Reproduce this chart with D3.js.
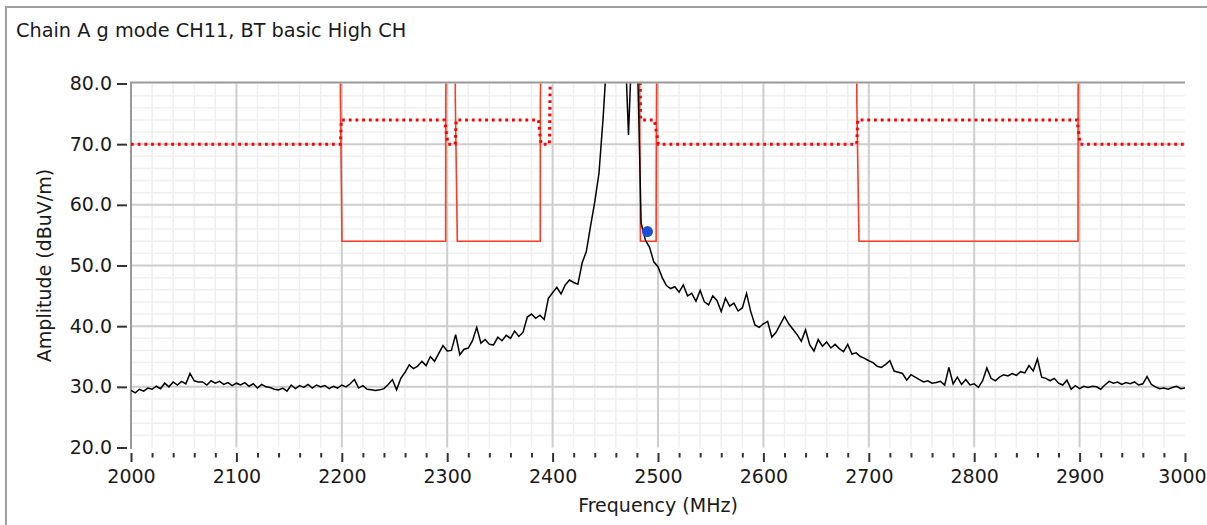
<!DOCTYPE html>
<html lang="en">
<head>
<meta charset="UTF-8">
<title>Chain A g mode CH11, BT basic High CH</title>
<script src="https://d3js.org/d3.v7.min.js"></script>
<style>
    body { margin: 0; background: #fff; }
    svg text { font-family: "DejaVu Sans", sans-serif; fill: #1a1a1a; }
</style>
</head>
<body>
<div id="fig"></div>
<script>
// measured trace, one reading every 4 MHz from 2000 to 3000 MHz
let traceStart = 2000, traceStep = 4
let amplitude = [
    29.4, 29.0, 29.6, 29.3, 29.8, 29.6, 30.1, 29.7, 30.6, 30.0, 30.8, 30.3, 30.9, 30.5, 32.2, 31.0, 30.8, 30.8, 30.3, 31.0, 30.6, 30.9, 30.4, 30.7, 30.2,
    30.6, 30.3, 30.7, 30.1, 30.5, 29.8, 30.4, 30.0, 29.9, 29.6, 29.5, 29.8, 29.3, 30.3, 29.7, 30.2, 29.9, 30.4, 29.8, 30.3, 30.0, 30.2, 29.7, 30.1, 29.8,
    30.3, 30.0, 30.5, 31.2, 29.8, 30.2, 29.6, 29.5, 29.4, 29.5, 29.7, 30.4, 31.2, 29.5, 31.4, 32.4, 33.6, 33.0, 33.4, 34.2, 33.5, 35.0, 34.2, 35.5, 36.8,
    35.9, 36.0, 38.6, 35.3, 36.2, 36.4, 37.6, 39.8, 37.2, 37.8, 37.0, 36.9, 38.2, 37.6, 38.5, 38.0, 39.2, 38.3, 39.0, 41.5, 42.0, 41.3, 41.8, 41.1, 44.6,
    45.5, 46.4, 45.3, 46.8, 47.6, 47.2, 46.9, 50.4, 52.3, 56.5, 60.5, 65.2, 74.5, 86.0, 92.0, 95.0, 95.0, 90.0, 71.5, 90.0, 88.0, 57.0, 54.2, 53.0, 50.6,
    49.8, 48.0, 46.7, 46.2, 46.5, 45.6, 46.8, 45.0, 45.4, 44.1, 45.9, 44.0, 43.5, 45.0, 44.2, 42.4, 44.6, 43.3, 43.8, 42.5, 43.0, 45.4, 42.4, 40.2, 39.8,
    40.4, 40.8, 38.2, 39.0, 40.3, 41.6, 40.4, 39.5, 38.6, 37.5, 39.4, 36.9, 35.9, 37.8, 36.7, 37.4, 36.4, 37.0, 36.3, 35.8, 37.0, 35.4, 35.6, 35.0, 34.7,
    34.3, 34.0, 33.4, 33.2, 33.7, 34.3, 32.6, 32.4, 32.2, 31.1, 32.0, 31.6, 31.2, 30.8, 31.0, 30.6, 30.7, 30.9, 30.3, 33.2, 30.5, 31.6, 30.4, 31.2, 30.3,
    30.5, 29.9, 31.0, 33.1, 31.4, 31.0, 31.6, 32.0, 31.8, 32.2, 31.9, 32.5, 32.3, 33.5, 32.6, 34.6, 31.6, 31.4, 31.0, 31.4, 30.6, 30.3, 31.1, 29.6, 30.2,
    29.7, 30.1, 29.9, 30.1, 30.0, 29.6, 30.3, 30.9, 30.6, 30.8, 30.4, 30.7, 30.5, 30.8, 30.3, 30.5, 31.7, 30.4, 30.0, 29.7, 29.8, 29.6, 29.9, 30.1, 29.7,
    29.8
]

// average limit (solid), off scale outside the restricted bands
let avgLimitFreq = [2000, 2198.5, 2198.7, 2200.2, 2298.5, 2298.6, 2300.3, 2307.6, 2307.7, 2309.6, 2388.3, 2388.4, 2390.2,
    2482.4, 2482.6, 2483.3, 2498.2, 2498.3, 2499.2, 2688.5, 2688.6, 2690.7, 2898.5, 2898.6, 2900.1, 3000]
let avgLimitLevel = [100, 100, 77.4, 54, 54, 77.4, 100, 100, 77.4, 54, 54, 77.4, 100,
    100, 78.5, 54, 54, 65.7, 100, 100, 77.4, 54, 54, 78, 100, 100]

// peak limit (dotted)
let peakLimitFreq = [2000, 2198.7, 2199.5, 2297.5, 2300.7, 2307.6, 2308.5, 2386.6, 2389, 2397, 2399,
    2482, 2483.5, 2496.5, 2498, 2500.3, 2688.5, 2689.5, 2897.6, 2900.5, 3000]
let peakLimitLevel = [70, 70, 74, 74, 70, 70, 74, 74, 70, 70, 100,
    100, 74, 74, 72.5, 70, 70, 74, 74, 70, 70]

let markerFreq = [2490]
let markerLevel = [55.6]

let xTicks = [2000, 2100, 2200, 2300, 2400, 2500, 2600, 2700, 2800, 2900, 3000]
let yTicks = [20, 30, 40, 50, 60, 70, 80]

let title = "Chain A g mode CH11, BT basic High CH"
let xTitle = "Frequency (MHz)"
let yTitle = "Amplitude (dBuV/m)"

let W = 1207, H = 525
let pLeft = 131, pRight = 1185, pTop = 83.5, pBottom = 447.5

let svg = d3.select("#fig").append("svg")
    .attr("width", W).attr("height", H)

let x = d3.scaleLinear().domain([2000, 3000]).range([pLeft, pRight])
let y = d3.scaleLinear().domain([20, 80]).range([pBottom, pTop])

// panel frame
svg.append("path")
    .attr("d", `M6,${H} V7 H${W}`)
    .attr("fill", "none").attr("stroke", "#a0a0a0").attr("stroke-width", 2)

svg.append("text")
    .attr("x", 16).attr("y", 37)
    .style("font-size", "19.3px")
    .text(title)

// grid
let grid = svg.append("g")
let minorX = d3.range(2000, 3000, 20).filter(d => d % 100 != 0)
let minorY = d3.range(20, 80, 2).filter(d => d % 10 != 0)
grid.selectAll(".mx").data(minorX).join("line")
    .attr("x1", d => x(d)).attr("x2", d => x(d))
    .attr("y1", pTop).attr("y2", pBottom)
    .attr("stroke", "#efefef").attr("stroke-width", 1.5)
grid.selectAll(".my").data(minorY).join("line")
    .attr("x1", pLeft).attr("x2", pRight)
    .attr("y1", d => y(d)).attr("y2", d => y(d))
    .attr("stroke", "#efefef").attr("stroke-width", 1.5)
grid.selectAll(".gx").data(xTicks.slice(1, -1)).join("line")
    .attr("x1", d => x(d)).attr("x2", d => x(d))
    .attr("y1", pTop).attr("y2", pBottom)
    .attr("stroke", "#cdcdcd").attr("stroke-width", 2)
grid.selectAll(".gy").data(yTicks.slice(1, -1)).join("line")
    .attr("x1", pLeft).attr("x2", pRight)
    .attr("y1", d => y(d)).attr("y2", d => y(d))
    .attr("stroke", "#cdcdcd").attr("stroke-width", 2)

// plot frame: top and left edges
svg.append("path")
    .attr("d", `M${pLeft},${pBottom + 1.5} V${pTop - 1} H${pRight}`)
    .attr("fill", "none").attr("stroke", "#9a9a9a").attr("stroke-width", 2)

// axes
let xAxis = svg.append("g").attr("transform", `translate(0,453)`)
    .call(d3.axisBottom(x).tickValues(xTicks).tickSize(9).tickPadding(8).tickFormat(d3.format("d")))
let xMinor = svg.append("g").attr("transform", `translate(0,453)`)
    .call(d3.axisBottom(x).tickValues(minorX).tickSize(4.5).tickFormat(""))
let yAxis = svg.append("g").attr("transform", `translate(127,0)`)
    .call(d3.axisLeft(y).tickValues(yTicks).tickSize(10).tickPadding(5).tickFormat(d3.format(".1f")))
;[xAxis, xMinor, yAxis].forEach(function (g) {
    g.select(".domain").remove()
    g.selectAll("line").attr("stroke", "#333").attr("stroke-width", 2)
    g.selectAll("text").style("font-size", "19px").attr("fill", "#1a1a1a")
})
// last label sits against the window edge, as in the original
xAxis.selectAll(".tick text").filter(d => d == 3000).attr("dx", -3)

svg.append("text")
    .attr("x", (pLeft + pRight) / 2).attr("y", 512)
    .attr("text-anchor", "middle")
    .style("font-size", "19px")
    .text(xTitle)
svg.append("text")
    .attr("transform", `translate(51,${(pTop + pBottom) / 2}) rotate(-90)`)
    .attr("text-anchor", "middle")
    .style("font-size", "19px")
    .text(yTitle)

// plotted data, clipped to the plot area
svg.append("clipPath").attr("id", "clip")
    .append("rect").attr("x", pLeft).attr("y", pTop).attr("width", pRight - pLeft).attr("height", pBottom - pTop)
let plot = svg.append("g").attr("clip-path", "url(#clip)")

let line = d3.line().x(d => x(d[0])).y(d => y(d[1]))

plot.append("path")
    .datum(d3.zip(avgLimitFreq, avgLimitLevel))
    .attr("d", line)
    .attr("fill", "none").attr("stroke", "#ff3a22").attr("stroke-width", 1.6)

plot.append("path")
    .datum(d3.zip(peakLimitFreq, peakLimitLevel))
    .attr("d", line)
    .attr("fill", "none").attr("stroke", "#ff0000").attr("stroke-width", 3)
    .attr("stroke-dasharray", "2.8,3.9")

plot.append("path")
    .datum(amplitude.map((v, i) => [traceStart + i * traceStep, v]))
    .attr("d", line)
    .attr("fill", "none").attr("stroke", "#000").attr("stroke-width", 1.5)

plot.selectAll(".marker").data(d3.zip(markerFreq, markerLevel)).join("circle")
    .attr("cx", d => x(d[0])).attr("cy", d => y(d[1])).attr("r", 5.5)
    .attr("fill", "#1d4ed8")
</script>
</body>
</html>
